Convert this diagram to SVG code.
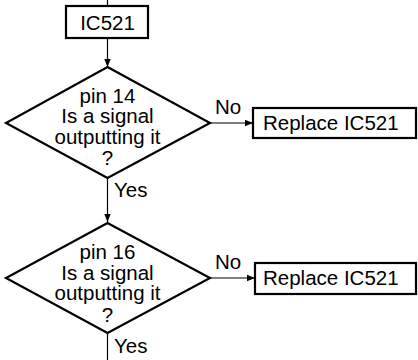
<svg xmlns="http://www.w3.org/2000/svg" width="418" height="360" viewBox="0 0 418 360">
<style>
text{font-family:"Liberation Sans",Arial,sans-serif;font-size:20.5px;fill:#000}
.c{text-anchor:middle}
.box{fill:#fff;stroke:#000;stroke-width:2.2}
.dia{fill:#fff;stroke:#000;stroke-width:2.2;stroke-linejoin:miter}
.ln{stroke:#000;stroke-width:1.2;fill:none}
</style>
<defs>
<marker id="ah" viewBox="0 0 10 10" refX="10" refY="5" markerWidth="8" markerHeight="8" markerUnits="userSpaceOnUse" orient="auto">
<path d="M0,1 L10,5 L0,9 Z" fill="#000"/>
</marker>
</defs>
<g id="connectors">
<line class="ln" x1="107.5" y1="0" x2="107.5" y2="6"/>
<line class="ln" x1="107.5" y1="38" x2="107.5" y2="67" marker-end="url(#ah)"/>
<line class="ln" x1="210" y1="123" x2="253" y2="123" marker-end="url(#ah)"/>
<text x="215" y="114">No</text>
<line class="ln" x1="107.5" y1="178" x2="107.5" y2="222" marker-end="url(#ah)"/>
<text x="114" y="197">Yes</text>
<line class="ln" x1="210" y1="278" x2="255" y2="278" marker-end="url(#ah)"/>
<text x="215" y="269">No</text>
<line class="ln" x1="107.5" y1="333" x2="107.5" y2="360"/>
<text x="114" y="353">Yes</text>
</g>
<g id="ic521">
<rect class="box" x="66" y="6" width="82" height="32"/>
<text class="c" x="107.5" y="30">IC521</text>
</g>
<g id="check14">
<polygon class="dia" points="107.5,67 210,123 107.5,178 6,123"/>
<text class="c" x="107.5" y="103">pin 14</text>
<text class="c" x="107.5" y="123">Is a signal</text>
<text class="c" x="107.5" y="143.5">outputting it</text>
<text class="c" x="107.5" y="165">?</text>
</g>
<g id="replace1">
<rect class="box" x="253" y="108" width="163" height="30"/>
<text x="263" y="130">Replace IC521</text>
</g>
<g id="check16">
<polygon class="dia" points="107.5,223 210,278 107.5,333 6,278"/>
<text class="c" x="107.5" y="259">pin 16</text>
<text class="c" x="107.5" y="280">Is a signal</text>
<text class="c" x="107.5" y="300">outputting it</text>
<text class="c" x="107.5" y="322">?</text>
</g>
<g id="replace2">
<rect class="box" x="255" y="263" width="161" height="31"/>
<text x="263" y="285">Replace IC521</text>
</g>
</svg>
